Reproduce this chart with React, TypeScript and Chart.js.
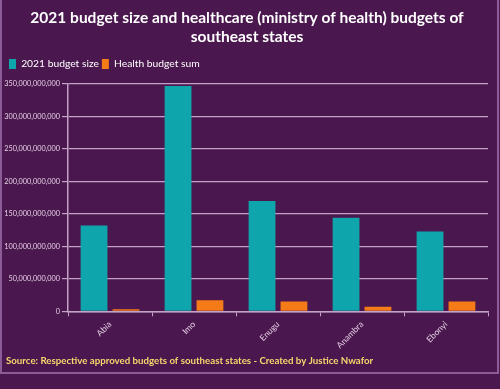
import React, { useEffect, useRef } from "react";
import { Chart, registerables } from "chart.js";

Chart.register(...registerables);

const categories = ["Abia", "Imo", "Enugu", "Anambra", "Ebonyi"];
const budgetSize = [132e9, 347e9, 170e9, 144e9, 123e9];
const healthBudget = [3e9, 17e9, 15e9, 7e9, 15e9];
const seriesNames = ["2021 budget size", "Health budget sum"];
const titleLines = [
  "2021 budget size and healthcare (ministry of health) budgets of",
  "southeast states",
];
const sourceText = "Source: Respective approved budgets of southeast states - Created by Justice Nwafor";

const BG = "#4b174f";
const GRID = "#c4a2c8";
const TICK = "#e6cfe6";
const FONT = "Lato, 'Open Sans', sans-serif";

const framePlugin = {
  id: "frame",
  beforeDraw(chart: any) {
    const { ctx, width, height } = chart;
    ctx.save();
    ctx.fillStyle = BG;
    ctx.fillRect(0, 0, width, height);
    ctx.strokeStyle = "#8c5c98";
    ctx.lineWidth = 2;
    ctx.beginPath();
    ctx.moveTo(1, 0);
    ctx.lineTo(1, 373);
    ctx.lineTo(498, 373);
    ctx.lineTo(498, 0);
    ctx.stroke();
    ctx.restore();
  },
};

const legendSpacePlugin = {
  id: "legendSpace",
  beforeLayout(chart: any) {
    const lg = chart.legend;
    if (lg && !lg._patched) {
      const f = lg.fit.bind(lg);
      lg.fit = function () {
        f();
        this.height += 5;
      };
      lg._patched = true;
    }
  },
};

export default function App() {
  const ref = useRef<HTMLCanvasElement>(null);
  useEffect(() => {
    document.body.style.margin = "0";
    document.body.style.background = BG;
    const chart = new Chart(ref.current!, {
      type: "bar",
      data: {
        labels: categories,
        datasets: [
          {
            label: seriesNames[0],
            data: budgetSize,
            backgroundColor: "#0ea5ad",
            barPercentage: 0.84,
            categoryPercentage: 0.76,
          },
          {
            label: seriesNames[1],
            data: healthBudget,
            backgroundColor: "#f47b17",
            barPercentage: 0.84,
            categoryPercentage: 0.76,
          },
        ],
      },
      options: {
        animation: false,
        responsive: false,
        maintainAspectRatio: false,
        layout: { padding: { left: 6, right: 12, top: 4, bottom: 22 } },
        plugins: {
          tooltip: { enabled: false },
          title: {
            display: true,
            text: titleLines,
            color: "#ffffff",
            font: { family: FONT, size: 15.5, weight: "bold", lineHeight: 1.25 },
            padding: { top: 4, bottom: 9 },
          },
          legend: {
            display: true,
            align: "start",
            labels: {
              color: "#ffffff",
              font: { family: FONT, size: 10.3 },
              boxWidth: 7,
              boxHeight: 10,
              padding: 3,
            },
          },
          subtitle: {
            display: true,
            position: "bottom",
            align: "start",
            text: sourceText,
            color: "#f6d86c",
            font: { family: FONT, size: 9.7, weight: "bold" },
            padding: { top: 2, bottom: 0 },
          },
        },
        scales: {
          x: {
            grid: {
              display: true,
              drawOnChartArea: false,
              drawTicks: true,
              tickLength: 5,
              color: GRID,
            },
            border: { color: GRID, width: 1.5 },
            ticks: {
              color: TICK,
              font: { family: FONT, size: 8.5 },
              minRotation: 45,
              maxRotation: 45,
            },
          },
          y: {
            min: 0,
            max: 350e9,
            afterFit: (s: any) => {
              s.width = 62;
              s._computeLabelArea = () => undefined;
            },
            grid: { color: GRID, lineWidth: 1.2, tickLength: 6 },
            border: { color: GRID, width: 1.5 },
            ticks: {
              stepSize: 50e9,
              color: TICK,
              font: { family: FONT, size: 7.3 },
              padding: 2,
              callback: (v: any) => Number(v).toLocaleString("en-US"),
            },
          },
        },
      },
      plugins: [framePlugin, legendSpacePlugin],
    });
    return () => chart.destroy();
  }, []);
  return (
    <div style={{ width: 500, height: 389, background: BG }}>
      <canvas ref={ref} width={500} height={389} style={{ display: "block" }} />
    </div>
  );
}
